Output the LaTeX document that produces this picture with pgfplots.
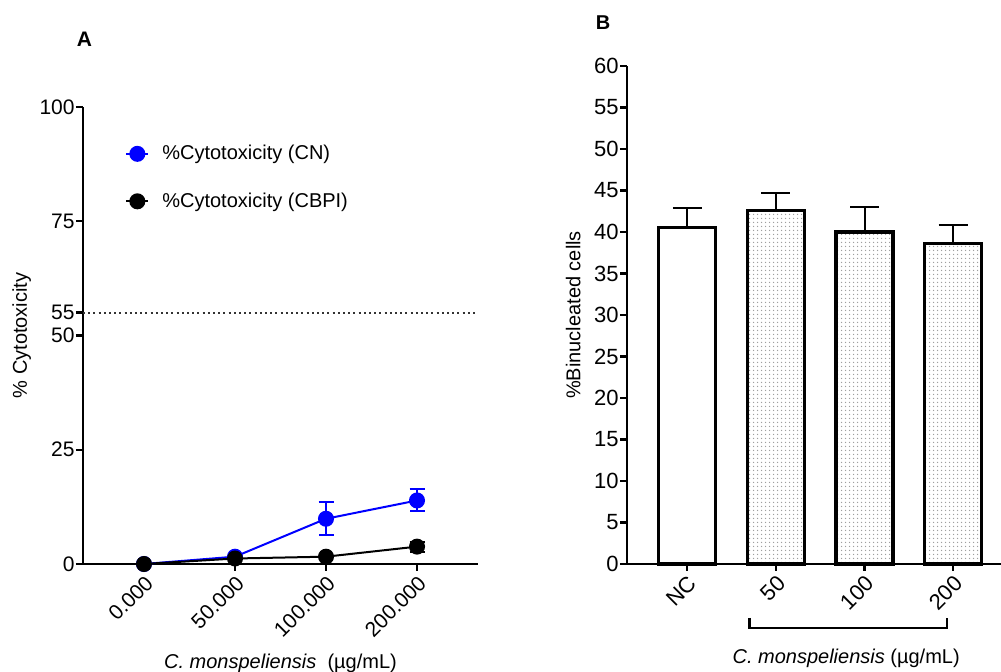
\documentclass[border=0pt]{standalone}
\usepackage{fontspec}
\setmainfont{Liberation Sans}
\usepackage{pgfplots}
\pgfplotsset{compat=1.18}
\usetikzlibrary{patterns.meta}

\tikzdeclarepattern{
  name=finedots, type=uncolored,
  bounding box={(0pt,0pt) and (2pt,2pt)},
  tile size={(2pt,2pt)},
  code={\fill (1pt,1pt) circle (0.45pt);}
}

\pgfplotsset{
  panel/.style={
    scale only axis,
    axis x line*=bottom, axis y line*=left,
    axis line style={line width=1.3pt,-},
    tick align=outside,
    major tick length=3.5pt,
    tick style={line width=1.2pt, black},
    tick label style={font=\fontsize{10.5}{12}\selectfont},
    yticklabel style={inner xsep=0.5pt},
    label style={font=\fontsize{10}{12}\selectfont},
    /pgf/number format/assume math mode=true,
    clip=false,
  },
}

\begin{document}
\begin{tikzpicture}
\useasboundingbox (0,0) rectangle (500.5pt,336pt);
\node[font=\bfseries\fontsize{10.5}{12}\selectfont] at (42.25pt,316.5pt) {A};
\node[font=\bfseries\fontsize{10}{12}\selectfont] at (301.5pt,324.5pt) {B};

% panel A: cytotoxicity
\begin{axis}[panel,
  at={(41.5pt,54pt)}, anchor=south west,
  width=197.5pt, height=228.5pt,
  xmin=-0.67, xmax=3.67, ymin=0, ymax=100,
  xtick={0,1,2,3}, xticklabels={0.000,50.000,100.000,200.000},
  xticklabel style={rotate=45, anchor=north east, inner sep=1pt},
  ytick={0,25,50,55,75,100},
  ylabel={\% Cytotoxicity},
  ylabel style={at={(axis description cs:-0.155,0.5)}, anchor=center},
  xlabel={\textit{C. monspeliensis}\ \ (µg/mL)},
  xlabel style={at={(axis description cs:0.5,-0.217)}, anchor=center},
  legend style={at={(0.091,0.935)}, anchor=north west, draw=none, fill=none,
    row sep=11pt, font=\fontsize{10}{12}\selectfont},
  legend cell align=left,
  legend image code/.code={\draw[mark repeat=2,mark phase=2] plot coordinates {(0pt,0pt) (5.5pt,0pt) (11pt,0pt)};},
]
\addplot[black!80, line width=0.9pt, dash pattern=on 1pt off 1.6pt, forget plot] coordinates {(-0.67,55) (3.67,55)};
\addplot[blue, line width=1pt, mark=*, mark size=3.5pt,
  error bars/.cd, y dir=both, y explicit,
  error bar style={line width=1pt}, error mark options={rotate=90, mark size=3.75pt, line width=1pt}]
  coordinates {(0,0) +- (0,0) (1,1.6) +- (0,0) (2,9.9) +- (0,3.6) (3,13.9) +- (0,2.4)};
\addlegendentry{\hspace*{4.5pt}\%Cytotoxicity (CN)}
\addplot[black, line width=1pt, mark=*, mark size=3.5pt,
  error bars/.cd, y dir=both, y explicit,
  error bar style={line width=1pt}, error mark options={rotate=90, mark size=3.75pt, line width=1pt}]
  coordinates {(0,0) +- (0,0) (1,1.2) +- (0,0) (2,1.6) +- (0,0) (3,3.8) +- (0,1.1)};
\addlegendentry{\hspace*{4.5pt}\%Cytotoxicity (CBPI)}
\end{axis}

% panel B: binucleated cells
\begin{axis}[panel,
  at={(313.5pt,54pt)}, anchor=south west,
  width=187pt, height=249pt,
  xmin=-0.68, xmax=3.54, ymin=0, ymax=60,
  ytick={0,5,...,60},
  tick label style={font=\fontsize{11}{13}\selectfont},
  xtick={0,1,2,3}, xticklabels={NC,50,100,200},
  xticklabel style={rotate=45, anchor=north east, inner sep=1pt},
  ylabel={\%Binucleated cells},
  ylabel style={at={(axis description cs:-0.144,0.5)}, anchor=center},
  xlabel={\textit{C. monspeliensis} (µg/mL)},
  xlabel style={at={(axis description cs:0.586,-0.189)}, anchor=center},
]
\addplot[ybar, bar width=28.5pt, bar shift=0pt, draw=black, line width=1.6pt, fill=white,
  error bars/.cd, y dir=plus, y explicit,
  error bar style={line width=1pt, black}, error mark options={rotate=90, mark size=7.25pt, line width=1pt}]
  coordinates {(0,40.5) +- (0,2.4)};
\addplot[ybar, bar width=28.5pt, bar shift=0pt, draw=black, line width=1.6pt,
  pattern=finedots, pattern color=gray!75,
  error bars/.cd, y dir=plus, y explicit,
  error bar style={line width=1pt, black}, error mark options={rotate=90, mark size=7.25pt, line width=1pt}]
  coordinates {(1,42.6) +- (0,2.1) (2,40.0) +- (0,3.0) (3,38.6) +- (0,2.2)};
\draw[line width=1.2pt] (axis cs:0.7,-6.5) -- (axis cs:0.7,-7.7) -- (axis cs:2.93,-7.7) -- (axis cs:2.93,-6.5);
\end{axis}
\end{tikzpicture}
\end{document}
